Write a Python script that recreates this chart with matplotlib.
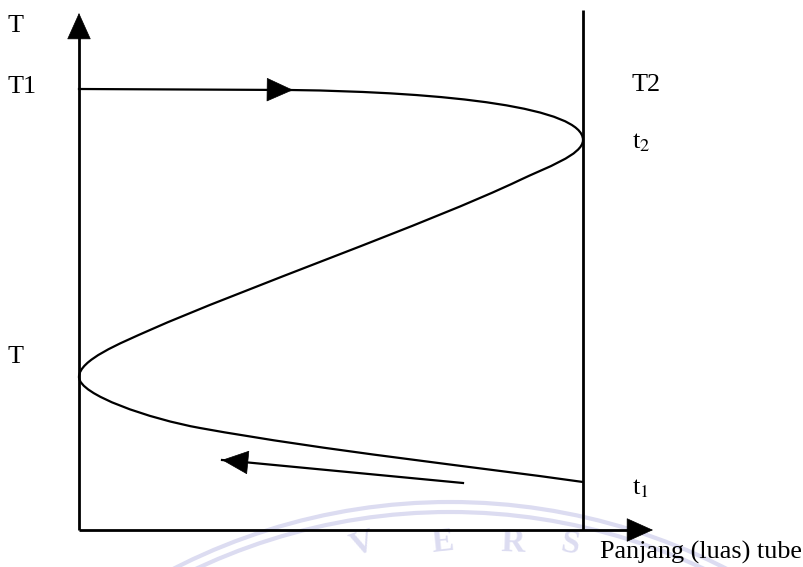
import matplotlib.pyplot as plt
from matplotlib.path import Path
from matplotlib.patches import PathPatch, Arc

plt.rcParams['font.family'] = ['Liberation Serif', 'DejaVu Serif']
plt.rcParams['mathtext.fontset'] = 'stix'

# Diagram drawn in pixel-like units (x to the right, y downwards)
x_left, x_right, y_base = 79, 583, 530
y_top_axis, x_end_axis, y_top_wall = 13, 653, 10

# Shell-side fluid: T1 inlet, enters flat then drops to t2 at the far end
hot_line = [(79, 89), (290, 90)]
hot_curve = [(290, 90), (450, 92), (583, 108), (583, 140)]

# Tube-side pass back across the tube, t2 -> T at the inlet wall
s_curve = [(583, 140), (583, 155), (545, 168), (520, 180),
           (430, 223), (240, 290), (150, 330),
           (120, 343.3), (79, 360), (79, 377)]

# Lower branch from T down to t1 at the far wall
low_curve = [(79, 377), (79, 395), (150, 419), (200, 428),
             (330, 451.4), (470, 466), (583, 482)]

# flow arrows
hot_arrow = ((262, 89.6), (293, 90))
cold_arrow = ((463, 483), (222, 460))

labels = ['T', 'T1', 'T', 'T2', 't$_2$', 't$_1$', 'Panjang (luas) tube']
label_pos = [(8, 32), (8, 93), (8, 363), (632, 91), (632, 148), (632, 494), (600, 559)]

fig = plt.figure(figsize=(8.04, 5.67), dpi=100)
ax = fig.add_axes([0, 0, 1, 1])
ax.set_xlim(0, 804)
ax.set_ylim(567, 0)
ax.axis('off')

# faint watermark at the bottom
wm = '#dcdcf1'
for r in (606, 596):
    ax.add_patch(Arc((450, 1108), 2 * r, 2 * r, theta1=200, theta2=340,
                     color=wm, lw=3, zorder=0))
for ch, (wx, wy), rot in zip('VERS', [(362, 555), (443, 552), (513, 552), (570, 554)],
                             [18, 6, -2, -10]):
    ax.text(wx, wy, ch, fontsize=24, fontweight='bold', color=wm, ha='center',
            va='baseline', rotation=rot, zorder=0)

lw_axis = 2.0
lw_curve = 1.6

# axes with arrowheads
ax.plot([x_left, x_left], [y_base, y_top_axis + 20], color='black', lw=lw_axis,
        solid_capstyle='butt')
ax.plot([x_left, x_end_axis - 20], [y_base, y_base], color='black', lw=lw_axis,
        solid_capstyle='butt')
ax.plot([x_right, x_right], [y_top_wall, y_base], color='black', lw=lw_axis,
        solid_capstyle='butt')
head = dict(arrowstyle='-|>,head_length=1.0,head_width=0.45', mutation_scale=18,
            color='black', lw=0.5, shrinkA=0, shrinkB=0)
ax.annotate('', xy=(x_left, y_top_axis), xytext=(x_left, y_top_axis + 25), arrowprops=head)
ax.annotate('', xy=(x_end_axis, y_base), xytext=(x_end_axis - 25, y_base), arrowprops=head)


def bezier(points):
    codes = [Path.MOVETO] + [Path.CURVE4] * (len(points) - 1)
    return PathPatch(Path(points, codes), fill=False, lw=lw_curve, color='black',
                     capstyle='round')


ax.plot(*zip(*hot_line), color='black', lw=lw_curve)
ax.add_patch(bezier(hot_curve))
ax.add_patch(bezier(s_curve))
ax.add_patch(bezier(low_curve))

ax.plot(*zip(*cold_arrow), color='black', lw=lw_curve)
ax.annotate('', xy=hot_arrow[1], xytext=hot_arrow[0], arrowprops=head)
ax.annotate('', xy=cold_arrow[1], xytext=(cold_arrow[1][0] + 24, cold_arrow[1][1] + 2.3),
            arrowprops=head)

for txt, (tx, ty) in zip(labels, label_pos):
    ax.text(tx, ty, txt, fontsize=18.8, ha='left', va='baseline')

fig.savefig('out.png', dpi=100)
